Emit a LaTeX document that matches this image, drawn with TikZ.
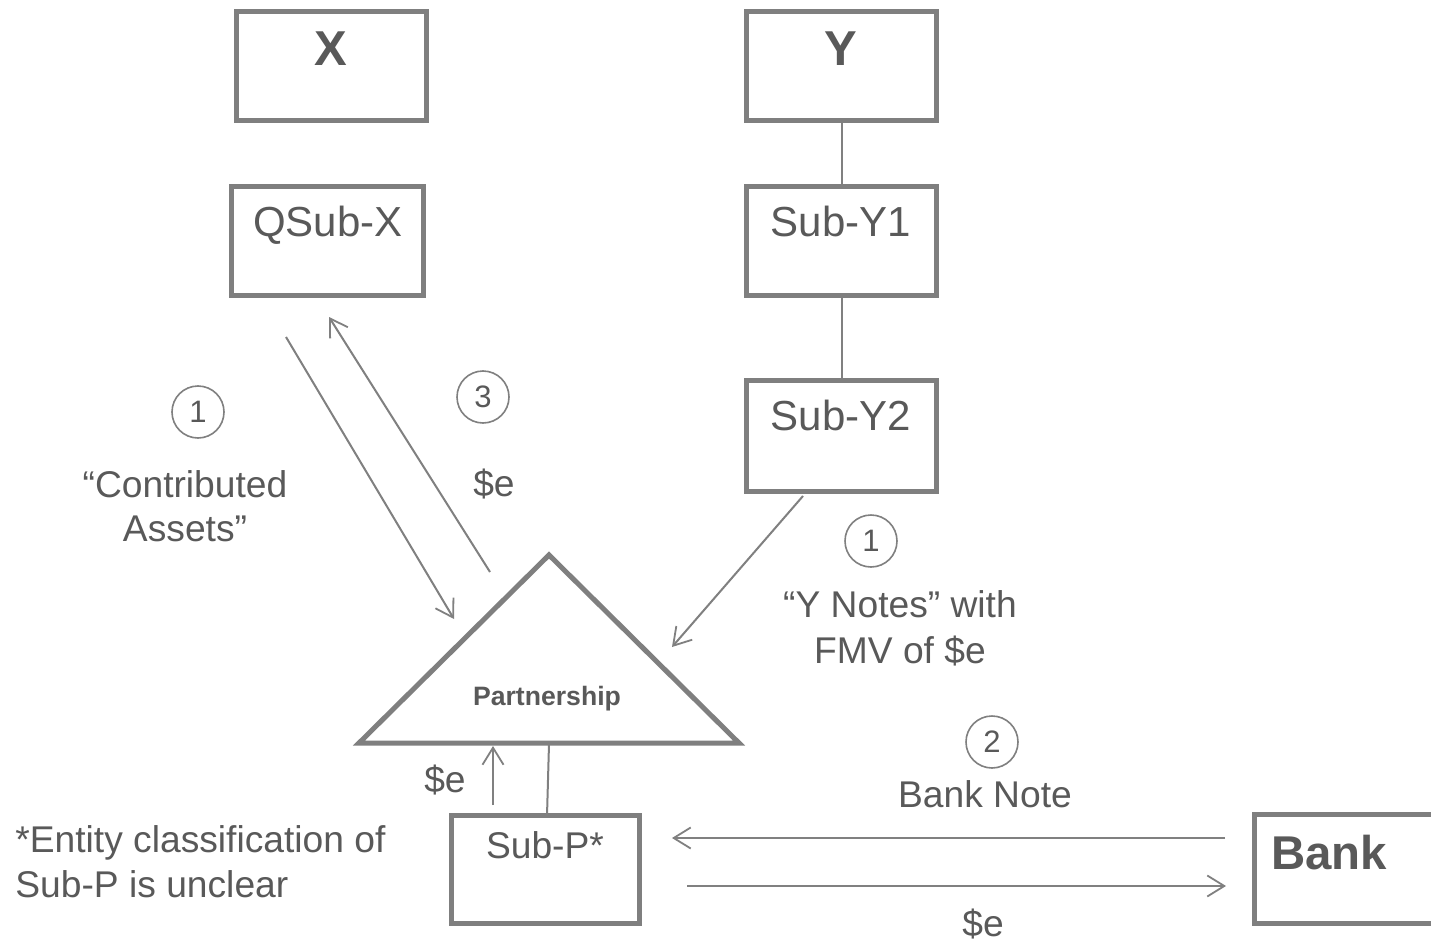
\documentclass[tikz,border=0pt]{standalone}
\usepackage{fontspec}
\setmainfont{Liberation Sans}
\usetikzlibrary{arrows.meta}
\definecolor{boxgray}{HTML}{7F7F7F}
\definecolor{linegray}{HTML}{808080}
\definecolor{txtgray}{HTML}{595959}
\tikzset{
  ebox/.style={draw=boxgray, line width=2.5pt, rectangle, inner sep=0pt, fill=white},
  boxtxt/.style={text=txtgray, anchor=base, inner sep=0pt, font=\fontsize{21}{25}\selectfont},
  bigtxt/.style={text=txtgray, anchor=base, inner sep=0pt, font=\fontsize{24.5}{28}\selectfont\bfseries},
  lbl/.style={text=txtgray, anchor=base, inner sep=0pt, font=\fontsize{18.6}{22}\selectfont},
  lblleft/.style={text=txtgray, anchor=base west, inner sep=0pt, font=\fontsize{18.6}{22}\selectfont},
  num/.style={draw=linegray, line width=0.8pt, circle, minimum size=26pt, inner sep=0pt, text=txtgray, font=\fontsize{15.5}{18}\selectfont},
  conn/.style={draw=linegray, line width=1pt},
  arr/.style={conn, -{Straight Barb[length=8.5pt,width=10.5pt,line width=0.9pt]}},
}
\begin{document}
\begin{tikzpicture}[x=0.5pt,y=-0.5pt]
\useasboundingbox (0,0) rectangle (1431,942);
\clip (0,0) rectangle (1431,942);
\fill[white] (0,0) rectangle (1431,942);

% boxes
\node[ebox, minimum width=95pt, minimum height=54.5pt] (X) at (331.5,66) {};
\node[ebox, minimum width=95pt, minimum height=54.5pt] (Y) at (841.5,66) {};
\node[ebox, minimum width=96pt, minimum height=54.5pt] (QX) at (327.5,241) {};
\node[ebox, minimum width=95pt, minimum height=54.5pt] (SY1) at (841.5,241) {};
\node[ebox, minimum width=95pt, minimum height=55.5pt] (SY2) at (841.5,436) {};
\node[ebox, minimum width=94pt, minimum height=54pt] (SP) at (545.5,869.5) {};
\node[ebox, minimum width=115pt, minimum height=54.5pt] (BK) at (1369.5,869) {};

% box texts
\node[bigtxt] (tX) at (331,65) {X};
\node[bigtxt] (tY) at (841,65) {Y};
\node[boxtxt] (tQX) at (328,236) {QSub-X};
\node[boxtxt] (tSY1) at (841,236) {Sub-Y1};
\node[boxtxt] (tSY2) at (841,430) {Sub-Y2};
\node[lbl] (tSP) at (545,858) {Sub-P*};
\node[text=txtgray, anchor=base west, inner sep=0pt, font=\fontsize{23.7}{28}\selectfont\bfseries] (tBK) at (1271,869) {Bank};

% triangle (partnership)
\coordinate (apex) at (549,555);
\coordinate (tl) at (359,743);
\coordinate (tr) at (739,743);
\draw[draw=boxgray, line width=2.5pt, line join=miter] (apex) -- (tr) -- (tl) -- cycle;
\node[text=txtgray, anchor=base, inner sep=0pt, font=\fontsize{13.3}{16}\selectfont\bfseries] (tP) at (547,705) {Partnership};

% plain connectors
\draw[conn] (Y.south) -- (SY1.north);
\draw[conn] (SY1.south) -- (SY2.north);
\coordinate (tb) at (549,744);
\coordinate (spt) at (547,816);
\draw[conn] (tb) -- (spt);

% arrows
\coordinate (a1s) at (286,337);
\coordinate (a1e) at (454,619);
\draw[arr] (a1s) -- (a1e);
\coordinate (a3s) at (490,572);
\coordinate (a3e) at (329,317);
\draw[arr] (a3s) -- (a3e);
\coordinate (ays) at (803,496);
\coordinate (aye) at (672,647);
\draw[arr] (ays) -- (aye);
\coordinate (aps) at (493,805);
\coordinate (ape) at (493,746);
\draw[arr] (aps) -- (ape);
\coordinate (bns) at (1225,838);
\coordinate (bne) at (672,838);
\draw[arr] (bns) -- (bne);
\coordinate (bes) at (687,886);
\coordinate (bee) at (1226,886);
\draw[arr] (bes) -- (bee);

% circled numbers
\node[num] (n1a) at (198,412) {1};
\node[num] (n3) at (483,397) {3};
\node[num] (n1b) at (871,541) {1};
\node[num] (n2) at (992,742) {2};

% labels
\node[lbl] (lc1) at (185,497) {“Contributed};
\node[lbl] (lc2) at (185,541) {Assets”};
\node[lbl] (l3) at (494,496) {\$e};
\node[lbl] (ly1) at (900,617) {“Y Notes” with};
\node[lbl] (ly2) at (900,663) {FMV of \$e};
\node[lbl] (lsp) at (445,792) {\$e};
\node[lbl] (lbn) at (985,807) {Bank Note};
\node[lbl] (lbe) at (983,936) {\$e};
\node[lblleft] (le1) at (15,852) {*Entity classification of};
\node[lblleft] (le2) at (15,897) {Sub-P is unclear};
\end{tikzpicture}
\end{document}
